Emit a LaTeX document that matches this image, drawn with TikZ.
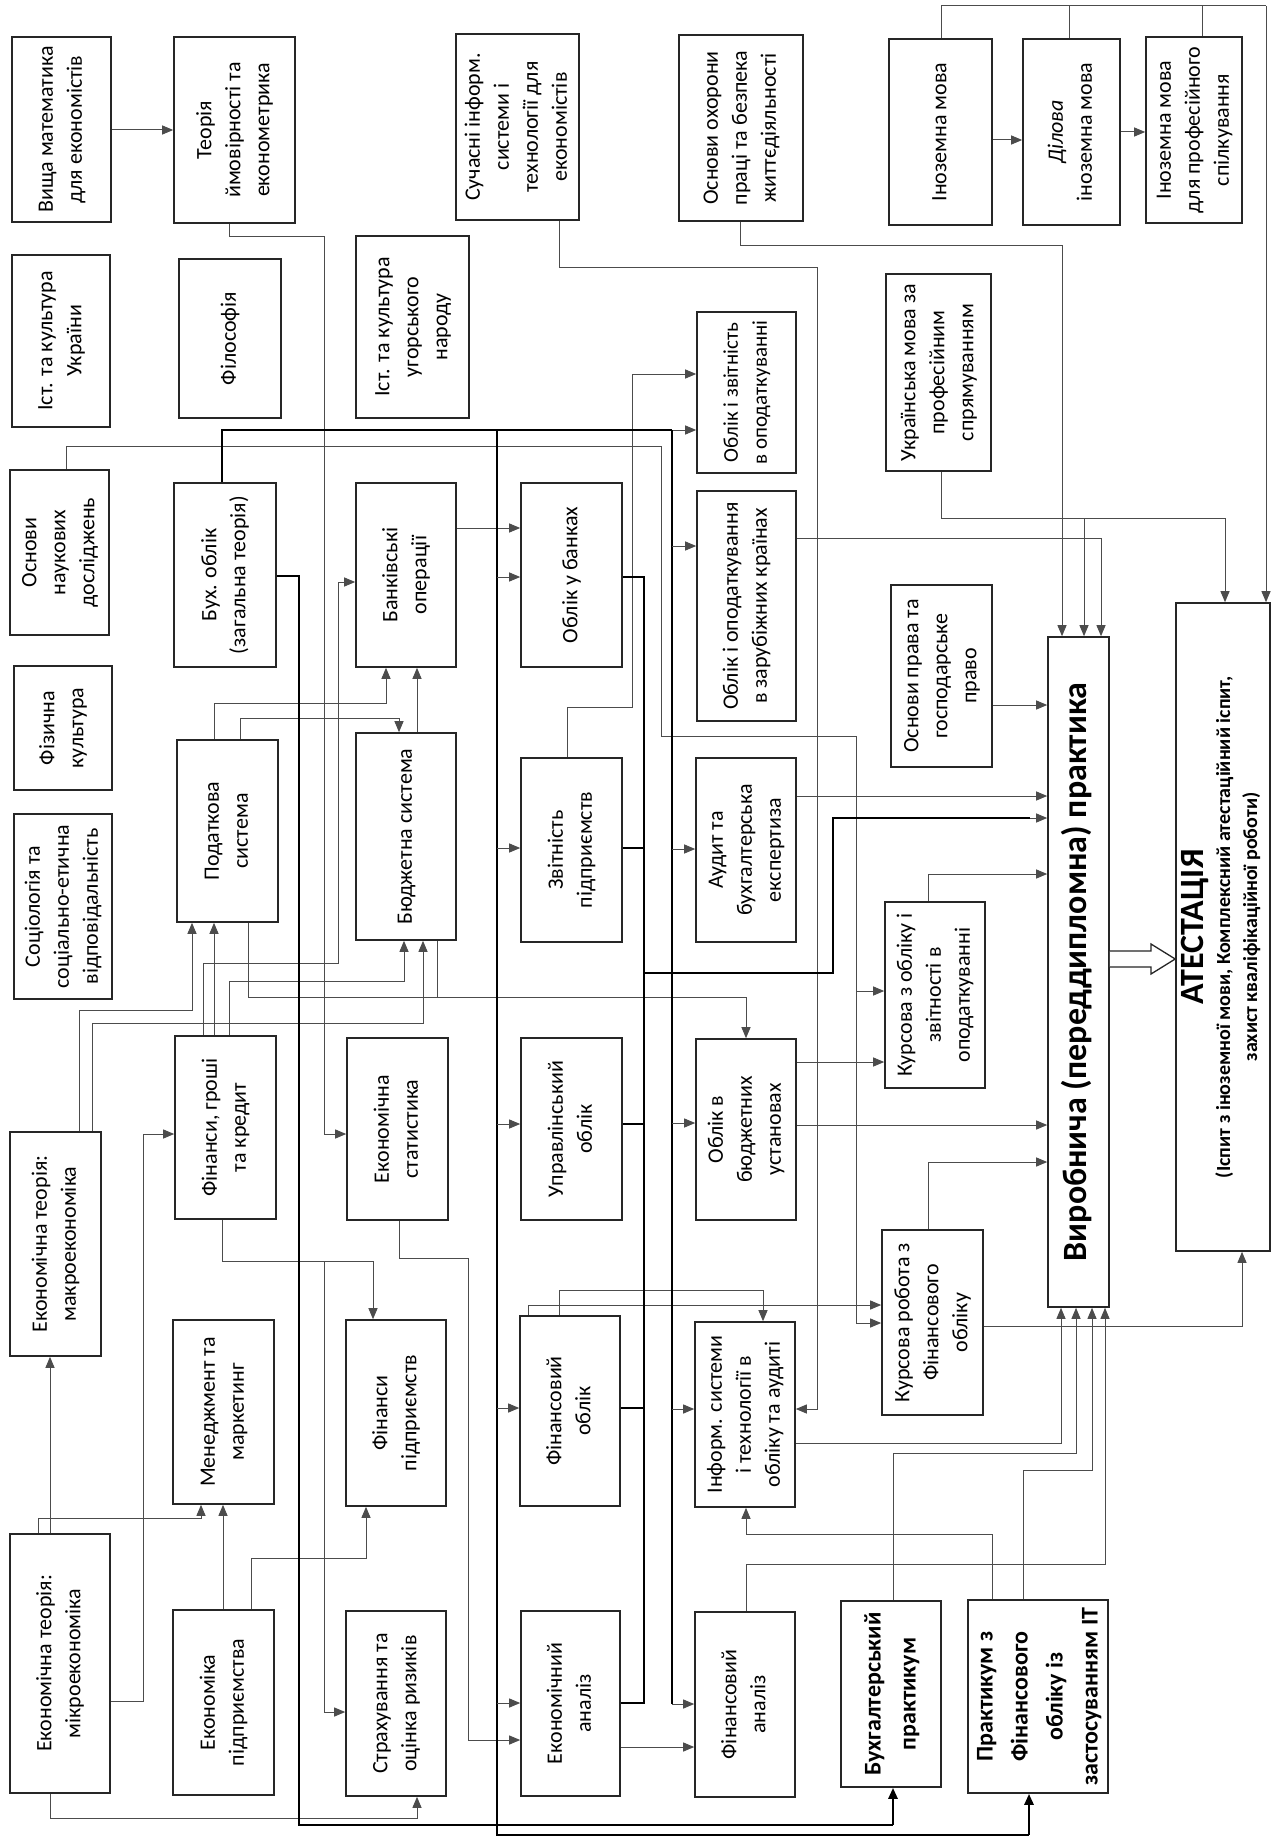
\documentclass[tikz,border=0pt]{standalone}
\usepackage{fontspec}
\setmainfont{Carlito}
\usepackage{graphicx}
\usetikzlibrary{arrows.meta}
\tikzset{
  box/.style={draw=black!85, line width=1.6pt, inner sep=0pt, fill=white, font=\fontsize{22}{29}\selectfont},
  boldbox/.style={font=\bfseries\fontsize{24}{35}\selectfont},
  ln/.style={draw=black!70, line width=1pt},
  tk/.style={draw=black, line width=2.6pt},
  arr/.style={-{Triangle[length=11pt,width=9pt]}},
}
\newcommand{\bx}[7][]{%
  \node[box,minimum width={#5-#3},minimum height={#6-#4},#1] (#2) at ({(#3+#5)/2},{(#4+#6)/2}) {\rotatebox{90}{\begin{tabular}{@{}c@{}}#7\end{tabular}}};}
\begin{document}
\begin{tikzpicture}[x=1pt,y=-1pt]
\fill[white] (0,0) rectangle (1286,1838);
\useasboundingbox (0,0) rectangle (1286,1838);

% ---------- boxes ----------
\bx{vyshcha}{12}{37}{111}{222}{Вища математика\\для економістів}
\bx{teoria}{174}{37}{295}{223}{Теорія\\ймовірності та\\економетрика}
\bx{suchasni}{456}{34}{579}{220}{Сучасні інформ.\\системи і\\технології для\\економістів}
\bx{okhorony}{679}{35}{803}{221}{Основи охорони\\праці та безпека\\життєдіяльності}
\bx{inozemna}{889}{39}{992}{225}{Іноземна мова}
\bx{dilova}{1023}{39}{1120}{225}{\textit{Ділова}\\іноземна мова}
\bx{inozprof}{1146}{37}{1242}{223}{Іноземна мова\\для професійного\\спілкування}
\bx{istukr}{12}{255}{110}{427}{Іст. та культура\\України}
\bx{filos}{179}{259}{281}{418}{Філософія}
\bx{istug}{356}{236}{469}{418}{Іст. та культура\\угорського\\народу}
\bx[font=\fontsize{21}{29}\selectfont]{ozvit}{697}{312}{796}{473}{Облік і звітність\\в оподаткуванні}
\bx{ukr}{886}{274}{991}{471}{Українська мова за\\професійним\\спрямуванням}
\bx{nauk}{10}{470}{109}{635}{Основи\\наукових\\досліджень}
\bx{bukh}{174}{483}{276}{667}{Бух. облік\\(загальна теорія)}
\bx{bank}{356}{483}{456}{667}{Банківські\\операції}
\bx{obank}{521}{483}{622}{667}{Облік у банках}
\bx{zarub}{697}{491}{796}{721}{Облік і оподаткування\\в зарубіжних країнах}
\bx{prava}{891}{585}{992}{767}{Основи права та\\господарське\\право}
\bx{fiz}{14}{666}{112}{790}{Фізична\\культура}
\bx{podat}{177}{740}{278}{922}{Податкова\\система}
\bx{budzh}{356}{733}{456}{940}{Бюджетна система}
\bx{zvit}{521}{758}{622}{942}{Звітність\\підприємств}
\bx{audyt}{696}{758}{796}{942}{Аудит та\\бухгалтерська\\експертиза}
\bx{sociol}{14}{814}{112}{999}{Соціологія та\\соціально-етична\\відповідальність}
\bx{kopod}{885}{902}{985}{1088}{Курсова з обліку і\\звітності в\\оподаткуванні}
\bx{makro}{10}{1132}{101}{1356}{Економічна теорія:\\макроекономіка}
\bx{fgk}{175}{1036}{276}{1219}{Фінанси, гроші\\та кредит}
\bx{ekstat}{347}{1038}{448}{1220}{Економічна\\статистика}
\bx{upravl}{521}{1038}{622}{1220}{Управлінський\\облік}
\bx{obudzh}{696}{1039}{796}{1220}{Облік в\\бюджетних\\установах}
\bx{kfin}{882}{1230}{983}{1415}{Курсова робота з\\Фінансового\\обліку}
\bx{mikro}{10}{1534}{110}{1793}{Економічна теорія:\\мікроекономіка}
\bx{menedzh}{173}{1320}{274}{1504}{Менеджмент та\\маркетинг}
\bx{ekp}{173}{1610}{274}{1795}{Економіка\\підприємства}
\bx{finp}{346}{1320}{446}{1506}{Фінанси\\підприємств}
\bx{strakh}{346}{1611}{446}{1796}{Страхування та\\оцінка ризиків}
\bx{fobl}{520}{1316}{620}{1506}{Фінансовий\\облік}
\bx{ekan}{521}{1611}{620}{1796}{Економічний\\аналіз}
\bx{inform}{695}{1322}{795}{1507}{Інформ. системи\\і технології в\\обліку та аудиті}
\bx{finan}{695}{1612}{795}{1797}{Фінансовий\\аналіз}
\bx[boldbox]{bprakt}{841}{1601}{941}{1787}{Бухгалтерський\\практикум}
\bx[boldbox]{pfin}{968}{1600}{1108}{1793}{Практикум з\\Фінансового\\обліку із\\застосуванням ІТ}
\bx[font=\bfseries\fontsize{34}{40}\selectfont]{vyrob}{1048}{637}{1109}{1307}{Виробнича (переддипломна) практика}
\bx[font=\bfseries\fontsize{20}{27}\selectfont]{atest}{1176}{603}{1270}{1251}{{\fontsize{34}{40}\selectfont АТЕСТАЦІЯ}\\(Іспит з іноземної мови, Комплексний атестаційний іспит,\\захист кваліфікаційної роботи)}

% ---------- thin connectors ----------
\draw[ln,arr] (vyshcha.east |- 0,130) -- (teoria.west |- 0,130);
\draw[ln,arr] (teoria.south -| 229,0) -- (229,236) -- (324,236) -- (324,1134) -- (ekstat.west |- 0,1134);
\draw[ln,arr] (suchasni.south -| 559,0) -- (559,267) -- (817,267) -- (817,1409) -- (inform.east |- 0,1409);
\draw[ln,arr] (okhorony.south -| 740,0) -- (740,245) -- (1062,245) -- (vyrob.north -| 1062,0);
\draw[ln] (inozemna.north -| 941,0) -- (941,6) -- (1266,6);
\draw[ln] (dilova.north -| 1069,0) -- (1069,6);
\draw[ln] (inozprof.north -| 1202,0) -- (1202,6);
\draw[ln,arr] (1266,6) -- (atest.north -| 1266,0);
\draw[ln,arr] (inozemna.east |- 0,140) -- (dilova.west |- 0,140);
\draw[ln,arr] (dilova.east |- 0,132) -- (inozprof.west |- 0,132);
\draw[ln,arr] (ukr.south -| 941,0) -- (941,518) -- (1225,518) -- (atest.north -| 1225,0);
\draw[ln,arr] (1084,518) -- (vyrob.north -| 1084,0);
\draw[ln,arr] (zarub.east |- 0,538) -- (1101,538) -- (vyrob.north -| 1101,0);
\draw[ln,arr] (prava.east |- 0,705) -- (vyrob.west |- 0,705);
\draw[ln,arr] (audyt.east |- 0,796) -- (vyrob.west |- 0,796);
\draw[ln,arr] (kopod.north -| 928,0) -- (928,874) -- (vyrob.west |- 0,874);
\draw[ln,arr] (obudzh.east |- 0,1125) -- (vyrob.west |- 0,1125);
\draw[ln,arr] (kfin.north -| 928,0) -- (928,1162) -- (vyrob.west |- 0,1162);
\draw[ln,arr] (obudzh.east |- 0,1062) -- (kopod.west |- 0,1062);
\draw[ln,arr] (nauk.north -| 66,0) -- (66,446) -- (661,446) -- (661,736) -- (856,736) -- (856,1323) -- (kfin.west |- 0,1323);
\draw[ln,arr] (856,991) -- (kopod.west |- 0,991);
\draw[ln,arr] (zvit.north -| 567,0) -- (567,707) -- (632,707) -- (632,374) -- (ozvit.west |- 0,374);
\draw[ln,arr] (bank.east |- 0,528) -- (obank.west |- 0,528);
\draw[ln,arr] (podat.north -| 214,0) -- (214,703) -- (386,703) -- (bank.south -| 386,0);
\draw[ln,arr] (podat.north -| 240,0) -- (240,718) -- (399,718) -- (budzh.north -| 399,0);
\draw[ln,arr] (budzh.north -| 417,0) -- (bank.south -| 417,0);
\draw[ln,arr] (fgk.north -| 214,0) -- (podat.south -| 214,0);
\draw[ln,arr] (fgk.north -| 203,0) -- (203,963) -- (338,963) -- (338,582) -- (bank.west |- 0,582);
\draw[ln,arr] (fgk.north -| 229,0) -- (229,981) -- (404,981) -- (budzh.south -| 404,0);
\draw[ln,arr] (makro.north -| 79,0) -- (79,1010) -- (192,1010) -- (podat.south -| 192,0);
\draw[ln,arr] (makro.north -| 92,0) -- (92,1023) -- (423,1023) -- (budzh.south -| 423,0);
\draw[ln,arr] (podat.south -| 248,0) -- (248,997) -- (746,997) -- (obudzh.north -| 746,0);
\draw[ln] (budzh.south -| 437,0) -- (437,997);
\draw[ln,arr] (mikro.north -| 50,0) -- (makro.south -| 50,0);
\draw[ln,arr] (mikro.north -| 38,0) -- (38,1518) -- (201,1518) -- (menedzh.south -| 201,0);
\draw[ln,arr] (ekp.north -| 223,0) -- (menedzh.south -| 223,0);
\draw[ln,arr] (ekp.north -| 251,0) -- (251,1558) -- (366,1558) -- (finp.south -| 366,0);
\draw[ln,arr] (mikro.east |- 0,1701) -- (143,1701) -- (143,1134) -- (fgk.west |- 0,1134);
\draw[ln,arr] (mikro.south -| 50,0) -- (50,1818) -- (417,1818) -- (strakh.south -| 417,0);
\draw[ln,arr] (fgk.south -| 222,0) -- (222,1261) -- (373,1261) -- (finp.north -| 373,0);
\draw[ln,arr] (324,1261) -- (324,1712) -- (strakh.west |- 0,1712);
\draw[ln,arr] (ekstat.south -| 399,0) -- (399,1258) -- (468,1258) -- (468,1740) -- (ekan.west |- 0,1740);
\draw[ln,arr] (ekan.east |- 0,1747) -- (finan.west |- 0,1747);
\draw[ln,arr] (fobl.north -| 559,0) -- (559,1290) -- (763,1290) -- (inform.north -| 763,0);
\draw[ln,arr] (fobl.north -| 528,0) -- (528,1305) -- (kfin.west |- 0,1305);
\draw[ln,arr] (inform.east |- 0,1443) -- (1061,1443) -- (vyrob.south -| 1061,0);
\draw[ln,arr] (bprakt.north -| 893,0) -- (893,1453) -- (1076,1453) -- (vyrob.south -| 1076,0);
\draw[ln,arr] (pfin.north -| 1023,0) -- (1023,1470) -- (1092,1470) -- (vyrob.south -| 1092,0);
\draw[ln,arr] (finan.north -| 746,0) -- (746,1564) -- (1105,1564) -- (vyrob.south -| 1105,0);
\draw[ln,arr] (pfin.north -| 992,0) -- (992,1534) -- (746,1534) -- (inform.south -| 746,0);
\draw[ln,arr] (kfin.east |- 0,1326) -- (1242,1326) -- (atest.south -| 1242,0);

% ---------- thick connectors ----------
\draw[tk] (bukh.north -| 222,0) -- (222,430) -- (672,430);
\draw[ln,arr] (672,430) -- (ozvit.west |- 0,430);
\draw[tk] (497,430) -- (497,1835) -- (1029,1835);
\draw[tk,arr] (1029,1835) -- (pfin.south -| 1029,0);
\draw[tk] (672,430) -- (672,1704);
\foreach \yy/\nn in {577/obank,848/zvit,1124/upravl,1408/fobl,1703/ekan}
  \draw[ln,arr] (497,\yy) -- (\nn.west |- 0,\yy);
\foreach \yy/\nn in {546/zarub,849/audyt,1123/obudzh,1409/inform,1704/finan}
  \draw[ln,arr] (672,\yy) -- (\nn.west |- 0,\yy);
\draw[tk] (bukh.east |- 0,576) -- (299,576) -- (299,1825) -- (893,1825);
\draw[tk,arr] (893,1825) -- (bprakt.south -| 893,0);
\draw[tk] (obank.east |- 0,577) -- (644,577) -- (644,1703) -- (ekan.east |- 0,1703);
\foreach \yy/\nn in {848/zvit,1124/upravl,1408/fobl}
  \draw[tk] (\nn.east |- 0,\yy) -- (644,\yy);
\draw[tk] (644,973) -- (833,973) -- (833,818) -- (1030,818);
\draw[ln,arr] (1030,818) -- (vyrob.west |- 0,818);

% ---------- hollow block arrow ----------
\draw[line width=1.3pt, draw=black!85, fill=white] (vyrob.east |- 0,951) -- (1151,951) -- (1151,944) -- (atest.west |- 0,959) -- (1151,974) -- (1151,967) -- (vyrob.east |- 0,967);
\end{tikzpicture}
\end{document}
